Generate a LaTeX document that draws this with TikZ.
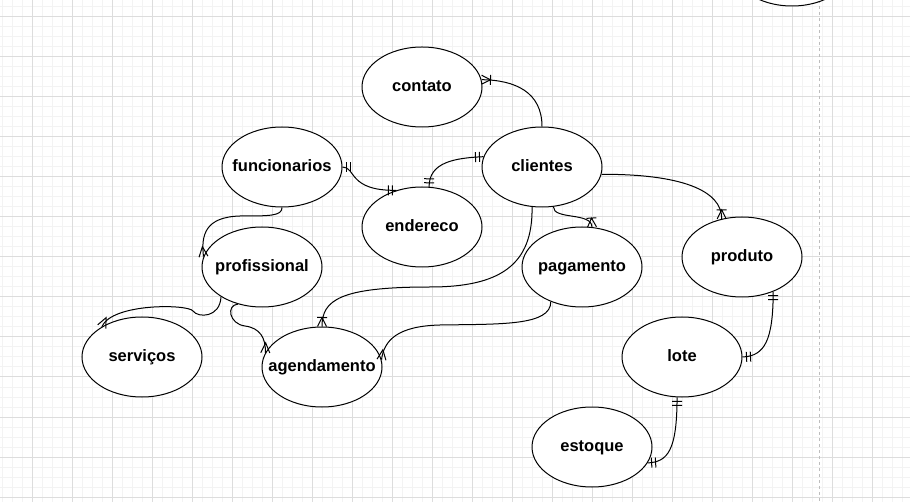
\documentclass[tikz,border=0pt]{standalone}
\usepackage{fontspec}
\setmainfont{Liberation Sans}
\usepackage{xcolor}
\definecolor{cLine}{HTML}{000000}
\definecolor{cGridMinor}{HTML}{F3F3F3}
\definecolor{cGridMajor}{HTML}{DDDDDD}
\definecolor{cPage}{HTML}{BDBDBD}
\usepackage{tikz}
\usetikzlibrary{shapes.geometric,decorations.markings}
\tikzset{
  node-entity/.style={draw=cLine,line width=1pt,ellipse,fill=white,
    minimum width=120pt,minimum height=80pt,inner sep=0pt,
    font=\fontsize{16.5}{19}\selectfont\bfseries,text height=12pt,text depth=3pt},
  link/.style={draw=cLine,line width=1pt},
  % marcas ER: barra dupla (um e somente um), pe de galinha (muitos)
  start-one/.style={postaction={decorate,decoration={markings,
      mark=at position 0 with {\draw[link] (4pt,-5pt) -- (4pt,5pt) (8pt,-5pt) -- (8pt,5pt);}}}},
  end-one/.style={postaction={decorate,decoration={markings,
      mark=at position -0.5pt with {\draw[link] (-3.5pt,-5pt) -- (-3.5pt,5pt) (-7.5pt,-5pt) -- (-7.5pt,5pt);}}}},
  end-many/.style={postaction={decorate,decoration={markings,
      mark=at position -0.5pt with {\draw[link] (0.5pt,-4.5pt) -- (-9.5pt,0pt) -- (0.5pt,4.5pt);}}}},
  end-one-many/.style={postaction={decorate,decoration={markings,
      mark=at position -0.5pt with {\draw[link] (0.5pt,-4.5pt) -- (-8.5pt,0pt) -- (0.5pt,4.5pt)
        (-8.5pt,-5pt) -- (-8.5pt,5pt);}}}},
  grid-minor/.style={draw=cGridMinor,line width=1pt},
  grid-major/.style={draw=cGridMajor,line width=1pt},
  page-break/.style={draw=cPage,line width=1pt,dash pattern=on 3pt off 3pt},
}
\newcommand{\etxt}[1]{\makebox[0pt]{#1}}

\begin{document}
\begin{tikzpicture}[x=1pt,y=-1pt]
  \useasboundingbox (0,0) rectangle (910,502);
  \fill[white] (0,0) rectangle (910,502);
  % grade
  \foreach \gx in {2,12,...,902} \draw[grid-minor] (\gx,0) -- (\gx,502);
  \foreach \gy in {7,17,...,497} \draw[grid-minor] (0,\gy) -- (910,\gy);
  \foreach \gx in {32,72,...,872} \draw[grid-major] (\gx,0) -- (\gx,502);
  \foreach \gy in {17,57,...,497} \draw[grid-major] (0,\gy) -- (910,\gy);
  \draw[page-break] (819,0) -- (819,502);

  % entidades
  \node[node-entity] (extra) at (792,-34) {};
  \node[node-entity] (contato) at (422,87) {\etxt{contato}};
  \node[node-entity] (clientes) at (542,167) {\etxt{clientes}};
  \node[node-entity] (funcionarios) at (282,167) {\etxt{funcionarios}};
  \node[node-entity] (endereco) at (422,227) {\etxt{endereco}};
  \node[node-entity] (profissional) at (262,267) {\etxt{profissional}};
  \node[node-entity] (pagamento) at (582,267) {\etxt{pagamento}};
  \node[node-entity] (produto) at (742,257) {\etxt{produto}};
  \node[node-entity] (servicos) at (142,357) {\etxt{serviços}};
  \node[node-entity] (agendamento) at (322,367) {\etxt{agendamento}};
  \node[node-entity] (lote) at (682,357) {\etxt{lote}};
  \node[node-entity] (estoque) at (592,447) {\etxt{estoque}};

  % relacionamentos
  \draw[link,end-one-many] (clientes.north) .. controls (542,92) and (515,80) .. (contato.7);
  \draw[link,start-one,end-one] (clientes.170) .. controls (455,158) and (429,162) .. (endereco.80);
  \draw[link,start-one,end-one] (funcionarios.east) .. controls (356,167) and (348,191) .. (endereco.125);
  \draw[link,end-many] (funcionarios.south) .. controls (282,216) and (270,216) .. (240,216)
    .. controls (205,217) and (201,235) .. (profissional.170);
  \draw[link,end-many] (profissional.216) .. controls (220,318) and (198,318) .. (193,311)
    .. controls (188,304) and (112,303) .. (servicos.143);
  \draw[link,end-many] (profissional.237) .. controls (226,305) and (229,324) .. (245,326)
    .. controls (260,328) and (266,338) .. (agendamento.166);
  \draw[link,end-one-many] (clientes.256) .. controls (533,265) and (500,287) .. (430,287)
    .. controls (340,287) and (322,300) .. (agendamento.north);
  \draw[link,end-one-many] (clientes.286) .. controls (553,220) and (592,212) .. (pagamento.76);
  \draw[link,end-many] (pagamento.228) .. controls (551,326) and (500,324) .. (440,325)
    .. controls (398,326) and (384,340) .. (agendamento.7);
  \draw[link,end-one-many] (clientes.353) .. controls (680,174) and (722,190) .. (produto.118);
  \draw[link,start-one,end-one] (produto.312) .. controls (773,340) and (765,356) .. (lote.east);
  \draw[link,start-one,end-one] (lote.263) .. controls (677,450) and (668,462) .. (estoque.344);
\end{tikzpicture}
\end{document}
